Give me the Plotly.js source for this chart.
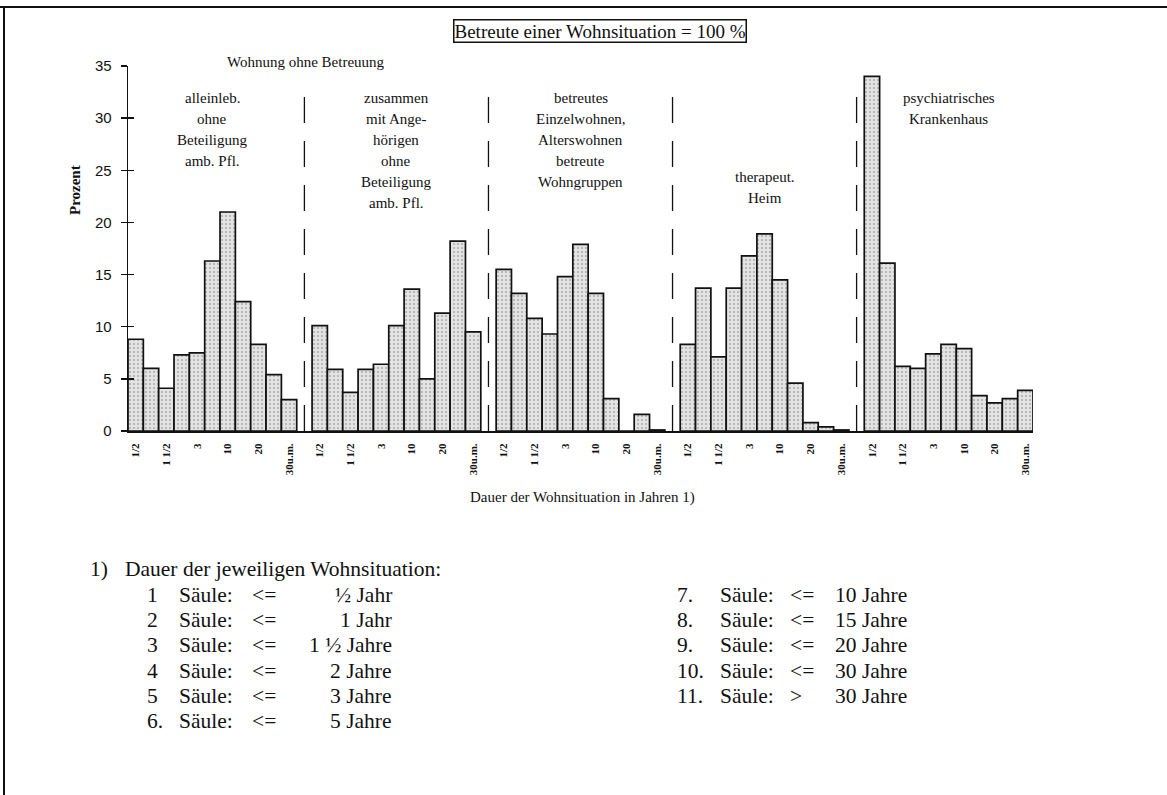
<!DOCTYPE html>
<html>
<head>
<meta charset="utf-8">
<script src="https://cdn.plot.ly/plotly-3.0.1.min.js"></script>
<style>
html,body{margin:0;padding:0;background:#fff;}
#chart{width:1167px;height:795px;}
.frame{position:absolute;background:#111;}
</style>
</head>
<body>
<div id="chart"></div>
<div class="frame" style="left:0;top:6px;width:1167px;height:2px;"></div>
<div class="frame" style="left:3px;top:6px;width:1.5px;height:789px;"></div>
<script>
// ---- data ----
const durationTickText = ["1/2", "1 1/2", "3", "10", "20", "30u.m."];
const durationTickBar = [0, 2, 4, 6, 8, 10];

const alleinlebend = [8.8, 6.0, 4.1, 7.3, 7.5, 16.3, 21.0, 12.4, 8.3, 5.4, 3.0];
const zusammenAngehoerige = [10.1, 5.9, 3.7, 5.9, 6.4, 10.1, 13.6, 5.0, 11.3, 18.2, 9.5];
const betreutesWohnen = [15.5, 13.2, 10.8, 9.3, 14.8, 17.9, 13.2, 3.1, 0, 1.6, 0.1];
const therapeutHeim = [8.3, 13.7, 7.1, 13.7, 16.8, 18.9, 14.5, 4.6, 0.8, 0.4, 0.1];
const psychKrankenhaus = [34.0, 16.1, 6.2, 6.0, 7.4, 8.3, 7.9, 3.4, 2.7, 3.1, 3.9];

const groups = [alleinlebend, zusammenAngehoerige, betreutesWohnen, therapeutHeim, psychKrankenhaus];
const groupLabels = [
  ["alleinleb.", "ohne", "Beteiligung", "amb. Pfl."],
  ["zusammen", "mit Ange-", "hörigen", "ohne", "Beteiligung", "amb. Pfl."],
  ["betreutes", "Einzelwohnen,", "Alterswohnen", "betreute", "Wohngruppen"],
  ["therapeut.", "Heim"],
  ["psychiatrisches", "Krankenhaus"]
];
const groupLabelTop = [98, 98, 98, 177, 98];

const footLeft = [
  ["1", "Säule:", "<=", "½ Jahr"],
  ["2", "Säule:", "<=", "1 Jahr"],
  ["3", "Säule:", "<=", "1 ½ Jahre"],
  ["4", "Säule:", "<=", "2 Jahre"],
  ["5", "Säule:", "<=", "3 Jahre"],
  ["6.", "Säule:", "<=", "5 Jahre"]
];
const footRight = [
  ["7.", "Säule:", "<=", "10 Jahre"],
  ["8.", "Säule:", "<=", "15 Jahre"],
  ["9.", "Säule:", "<=", "20 Jahre"],
  ["10.", "Säule:", "<=", "30 Jahre"],
  ["11.", "Säule:", ">", "30 Jahre"]
];

// ---- layout helpers ----
const SLOT = 12; // 11 bars + 1 gap
const W = 1167, H = 795;
const M = {l: 128, r: 134, t: 66, b: 364};
const PW = W - M.l - M.r, PH = H - M.t - M.b;
const px = x => (x - M.l) / PW;
const py = y => (H - M.b - y) / PH;
const SERIF = "Liberation Serif, Times New Roman, serif";

const traces = groups.map((vals, g) => ({
  type: "bar",
  x: vals.map((v, i) => g * SLOT + i),
  y: vals,
  width: 1,
  marker: {
    color: "#e3e3e3",
    line: {color: "#111", width: 1.7},
    pattern: {shape: ".", fgcolor: "#7a7a7a", size: 4, solidity: 0.22, fillmode: "overlay"}
  },
  hoverinfo: "skip",
  showlegend: false
}));
// overlay axis for ticks crossing the y axis
traces.push({type: "scatter", x: [0], y: [0], yaxis: "y2", mode: "markers",
  marker: {opacity: 0}, showlegend: false, hoverinfo: "skip"});

const tickvals = [], ticktext = [];
groups.forEach((_, g) => durationTickBar.forEach((b, k) => {
  tickvals.push(g * SLOT + b); ticktext.push(durationTickText[k]);
}));

function txt(x, y, text, font, xanchor, extra) {
  return Object.assign({xref: "paper", yref: "paper", x: px(x), y: py(y), text,
    showarrow: false, font, xanchor: xanchor || "center", yanchor: "middle"}, extra || {});
}

const annotations = [];
annotations.push(txt(600, 31, "Betreute einer Wohnsituation = 100 %", {family: SERIF, size: 19, color: "#111"},
  "center", {bordercolor: "#111", borderwidth: 1.5, borderpad: 0, bgcolor: "#fff"}));
annotations.push(txt(306, 62, "Wohnung ohne Betreuung", {family: SERIF, size: 15, color: "#111"}));
groupLabels.forEach((lines, g) => lines.forEach((t, i) => {
  annotations.push({xref: "x", yref: "paper", x: g * SLOT + 5, y: py(groupLabelTop[g] + 21 * i), text: t,
    showarrow: false, xanchor: "center", yanchor: "middle", font: {family: SERIF, size: 15, color: "#111"}});
}));
annotations.push(txt(75, 190, "<b>Prozent</b>", {family: SERIF, size: 15, color: "#111"}, "center", {textangle: -90}));
annotations.push(txt(582, 497, "Dauer der Wohnsituation in Jahren 1)", {family: SERIF, size: 15, color: "#111"}));

const FOOT = {family: SERIF, size: 21.5, color: "#111"};
annotations.push(txt(88, 569, "1)", FOOT, "left"));
annotations.push(txt(123, 569, "Dauer der jeweiligen Wohnsituation:", FOOT, "left"));
const ROW0 = 595, ROWH = 25.2;
footLeft.forEach((r, i) => {
  const y = ROW0 + ROWH * i;
  annotations.push(txt(145, y, r[0], FOOT, "left"));
  annotations.push(txt(177, y, r[1], FOOT, "left"));
  annotations.push(txt(250, y, r[2], FOOT, "left"));
  annotations.push(txt(394, y, r[3], FOOT, "right"));
});
footRight.forEach((r, i) => {
  const y = ROW0 + ROWH * i;
  annotations.push(txt(675, y, r[0], FOOT, "left"));
  annotations.push(txt(718, y, r[1], FOOT, "left"));
  annotations.push(txt(788, y, r[2], FOOT, "left"));
  annotations.push(txt(833, y, r[3], FOOT, "left"));
});

const shapes = [];
for (let g = 1; g < groups.length; g++) {
  shapes.push({type: "line", xref: "x", yref: "paper", x0: g * SLOT - 1, x1: g * SLOT - 1,
    y0: 0, y1: py(88), line: {color: "#111", width: 1.3, dash: "26px,18px"}});
}

const layout = {
  width: W, height: H,
  margin: M,
  paper_bgcolor: "#fff", plot_bgcolor: "rgba(0,0,0,0)",
  bargap: 0,
  xaxis: {
    range: [-0.5, groups.length * SLOT - 1.5],
    tickmode: "array", tickvals, ticktext, tickangle: -90,
    ticks: "", showgrid: false, zeroline: false,
    showline: true, linecolor: "#111", linewidth: 2,
    tickfont: {family: SERIF, size: 11, color: "#111", weight: "bold"},
    ticklabelstandoff: 6
  },
  yaxis: {
    range: [0, 35], tickvals: [0, 5, 10, 15, 20, 25, 30, 35],
    ticks: "outside", ticklen: 6, tickwidth: 1.3, tickcolor: "#111",
    showgrid: false, zeroline: false,
    showline: true, linecolor: "#111", linewidth: 1.3,
    tickfont: {family: "Liberation Sans, Arial, sans-serif", size: 15, color: "#111"},
    ticklabelstandoff: 6
  },
  yaxis2: {
    overlaying: "y", range: [0, 35], tickvals: [0, 5, 10, 15, 20, 25, 30, 35],
    ticks: "inside", ticklen: 6, tickwidth: 1.3, tickcolor: "#111",
    showticklabels: false, showgrid: false, zeroline: false, showline: false
  },
  annotations, shapes,
  showlegend: false
};

Plotly.newPlot("chart", traces, layout, {staticPlot: true});
</script>
</body>
</html>
